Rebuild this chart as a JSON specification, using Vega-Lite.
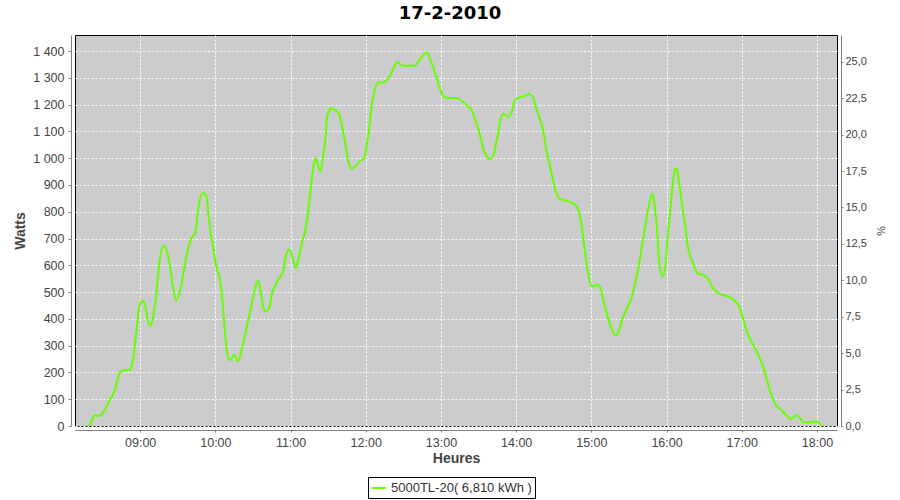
{
  "$schema": "https://vega.github.io/schema/vega-lite/v6.json",
  "autosize": {"type": "none"},
  "width": 762,
  "height": 391,
  "padding": {"left": 75, "top": 35, "right": 63, "bottom": 74},
  "background": "white",
  "title": {"text": "17-2-2010", "font": "DejaVu Sans", "fontSize": 18, "fontWeight": "bold", "color": "#000000", "anchor": "middle", "dx": -6, "offset": 12},
  "data": {"values": [
    {"time": "2010-02-17T08:19:00Z", "watts": 0},
    {"time": "2010-02-17T08:21:00Z", "watts": 15},
    {"time": "2010-02-17T08:23:00Z", "watts": 37},
    {"time": "2010-02-17T08:25:00Z", "watts": 40},
    {"time": "2010-02-17T08:27:00Z", "watts": 37},
    {"time": "2010-02-17T08:29:00Z", "watts": 42},
    {"time": "2010-02-17T08:31:00Z", "watts": 55},
    {"time": "2010-02-17T08:33:00Z", "watts": 72},
    {"time": "2010-02-17T08:36:00Z", "watts": 99},
    {"time": "2010-02-17T08:38:00Z", "watts": 115},
    {"time": "2010-02-17T08:40:00Z", "watts": 138},
    {"time": "2010-02-17T08:42:00Z", "watts": 175},
    {"time": "2010-02-17T08:44:00Z", "watts": 200},
    {"time": "2010-02-17T08:46:00Z", "watts": 208},
    {"time": "2010-02-17T08:49:00Z", "watts": 208},
    {"time": "2010-02-17T08:52:00Z", "watts": 210},
    {"time": "2010-02-17T08:54:00Z", "watts": 240},
    {"time": "2010-02-17T08:56:00Z", "watts": 310},
    {"time": "2010-02-17T08:58:00Z", "watts": 397},
    {"time": "2010-02-17T08:59:00Z", "watts": 441},
    {"time": "2010-02-17T09:02:00Z", "watts": 468},
    {"time": "2010-02-17T09:04:00Z", "watts": 453},
    {"time": "2010-02-17T09:06:00Z", "watts": 397},
    {"time": "2010-02-17T09:08:00Z", "watts": 376},
    {"time": "2010-02-17T09:11:00Z", "watts": 422},
    {"time": "2010-02-17T09:13:00Z", "watts": 497},
    {"time": "2010-02-17T09:15:00Z", "watts": 596},
    {"time": "2010-02-17T09:17:00Z", "watts": 656},
    {"time": "2010-02-17T09:19:00Z", "watts": 673},
    {"time": "2010-02-17T09:22:00Z", "watts": 640},
    {"time": "2010-02-17T09:24:00Z", "watts": 590},
    {"time": "2010-02-17T09:26:00Z", "watts": 522},
    {"time": "2010-02-17T09:29:00Z", "watts": 469},
    {"time": "2010-02-17T09:32:00Z", "watts": 509},
    {"time": "2010-02-17T09:35:00Z", "watts": 584},
    {"time": "2010-02-17T09:38:00Z", "watts": 658},
    {"time": "2010-02-17T09:41:00Z", "watts": 702},
    {"time": "2010-02-17T09:44:00Z", "watts": 721},
    {"time": "2010-02-17T09:46:00Z", "watts": 801},
    {"time": "2010-02-17T09:50:00Z", "watts": 870},
    {"time": "2010-02-17T09:53:00Z", "watts": 857},
    {"time": "2010-02-17T09:55:00Z", "watts": 764},
    {"time": "2010-02-17T09:58:00Z", "watts": 671},
    {"time": "2010-02-17T10:01:00Z", "watts": 590},
    {"time": "2010-02-17T10:04:00Z", "watts": 540},
    {"time": "2010-02-17T10:06:00Z", "watts": 447},
    {"time": "2010-02-17T10:08:00Z", "watts": 335},
    {"time": "2010-02-17T10:10:00Z", "watts": 254},
    {"time": "2010-02-17T10:12:00Z", "watts": 246},
    {"time": "2010-02-17T10:15:00Z", "watts": 267},
    {"time": "2010-02-17T10:18:00Z", "watts": 242},
    {"time": "2010-02-17T10:21:00Z", "watts": 285},
    {"time": "2010-02-17T10:24:00Z", "watts": 348},
    {"time": "2010-02-17T10:27:00Z", "watts": 410},
    {"time": "2010-02-17T10:30:00Z", "watts": 478},
    {"time": "2010-02-17T10:34:00Z", "watts": 543},
    {"time": "2010-02-17T10:36:00Z", "watts": 509},
    {"time": "2010-02-17T10:38:00Z", "watts": 447},
    {"time": "2010-02-17T10:40:00Z", "watts": 428},
    {"time": "2010-02-17T10:43:00Z", "watts": 441},
    {"time": "2010-02-17T10:45:00Z", "watts": 491},
    {"time": "2010-02-17T10:48:00Z", "watts": 528},
    {"time": "2010-02-17T10:50:00Z", "watts": 547},
    {"time": "2010-02-17T10:54:00Z", "watts": 574},
    {"time": "2010-02-17T10:56:00Z", "watts": 628},
    {"time": "2010-02-17T10:59:00Z", "watts": 659},
    {"time": "2010-02-17T11:02:00Z", "watts": 621},
    {"time": "2010-02-17T11:04:00Z", "watts": 590},
    {"time": "2010-02-17T11:06:00Z", "watts": 615},
    {"time": "2010-02-17T11:09:00Z", "watts": 684},
    {"time": "2010-02-17T11:12:00Z", "watts": 733},
    {"time": "2010-02-17T11:14:00Z", "watts": 796},
    {"time": "2010-02-17T11:16:00Z", "watts": 882},
    {"time": "2010-02-17T11:18:00Z", "watts": 960},
    {"time": "2010-02-17T11:20:00Z", "watts": 1001},
    {"time": "2010-02-17T11:22:00Z", "watts": 969},
    {"time": "2010-02-17T11:24:00Z", "watts": 951},
    {"time": "2010-02-17T11:26:00Z", "watts": 1007},
    {"time": "2010-02-17T11:28:00Z", "watts": 1081},
    {"time": "2010-02-17T11:29:00Z", "watts": 1150},
    {"time": "2010-02-17T11:31:00Z", "watts": 1178},
    {"time": "2010-02-17T11:32:00Z", "watts": 1187},
    {"time": "2010-02-17T11:36:00Z", "watts": 1178},
    {"time": "2010-02-17T11:39:00Z", "watts": 1162},
    {"time": "2010-02-17T11:41:00Z", "watts": 1119},
    {"time": "2010-02-17T11:44:00Z", "watts": 1044},
    {"time": "2010-02-17T11:46:00Z", "watts": 988},
    {"time": "2010-02-17T11:49:00Z", "watts": 961},
    {"time": "2010-02-17T11:52:00Z", "watts": 972},
    {"time": "2010-02-17T11:55:00Z", "watts": 988},
    {"time": "2010-02-17T11:59:00Z", "watts": 1001},
    {"time": "2010-02-17T12:01:00Z", "watts": 1057},
    {"time": "2010-02-17T12:03:00Z", "watts": 1119},
    {"time": "2010-02-17T12:05:00Z", "watts": 1206},
    {"time": "2010-02-17T12:07:00Z", "watts": 1249},
    {"time": "2010-02-17T12:08:00Z", "watts": 1268},
    {"time": "2010-02-17T12:10:00Z", "watts": 1283},
    {"time": "2010-02-17T12:14:00Z", "watts": 1283},
    {"time": "2010-02-17T12:18:00Z", "watts": 1299},
    {"time": "2010-02-17T12:21:00Z", "watts": 1324},
    {"time": "2010-02-17T12:25:00Z", "watts": 1358},
    {"time": "2010-02-17T12:30:00Z", "watts": 1345},
    {"time": "2010-02-17T12:34:00Z", "watts": 1345},
    {"time": "2010-02-17T12:39:00Z", "watts": 1345},
    {"time": "2010-02-17T12:43:00Z", "watts": 1368},
    {"time": "2010-02-17T12:46:00Z", "watts": 1386},
    {"time": "2010-02-17T12:49:00Z", "watts": 1396},
    {"time": "2010-02-17T12:51:00Z", "watts": 1374},
    {"time": "2010-02-17T12:54:00Z", "watts": 1337},
    {"time": "2010-02-17T12:57:00Z", "watts": 1293},
    {"time": "2010-02-17T13:00:00Z", "watts": 1249},
    {"time": "2010-02-17T13:03:00Z", "watts": 1228},
    {"time": "2010-02-17T13:07:00Z", "watts": 1225},
    {"time": "2010-02-17T13:13:00Z", "watts": 1225},
    {"time": "2010-02-17T13:17:00Z", "watts": 1212},
    {"time": "2010-02-17T13:21:00Z", "watts": 1196},
    {"time": "2010-02-17T13:25:00Z", "watts": 1175},
    {"time": "2010-02-17T13:27:00Z", "watts": 1150},
    {"time": "2010-02-17T13:30:00Z", "watts": 1106},
    {"time": "2010-02-17T13:32:00Z", "watts": 1069},
    {"time": "2010-02-17T13:34:00Z", "watts": 1032},
    {"time": "2010-02-17T13:39:00Z", "watts": 997},
    {"time": "2010-02-17T13:42:00Z", "watts": 1013},
    {"time": "2010-02-17T13:44:00Z", "watts": 1057},
    {"time": "2010-02-17T13:46:00Z", "watts": 1100},
    {"time": "2010-02-17T13:47:00Z", "watts": 1137},
    {"time": "2010-02-17T13:50:00Z", "watts": 1166},
    {"time": "2010-02-17T13:54:00Z", "watts": 1154},
    {"time": "2010-02-17T13:57:00Z", "watts": 1181},
    {"time": "2010-02-17T13:59:00Z", "watts": 1216},
    {"time": "2010-02-17T14:03:00Z", "watts": 1228},
    {"time": "2010-02-17T14:07:00Z", "watts": 1233},
    {"time": "2010-02-17T14:10:00Z", "watts": 1240},
    {"time": "2010-02-17T14:13:00Z", "watts": 1231},
    {"time": "2010-02-17T14:16:00Z", "watts": 1187},
    {"time": "2010-02-17T14:19:00Z", "watts": 1144},
    {"time": "2010-02-17T14:22:00Z", "watts": 1094},
    {"time": "2010-02-17T14:24:00Z", "watts": 1032},
    {"time": "2010-02-17T14:27:00Z", "watts": 969},
    {"time": "2010-02-17T14:30:00Z", "watts": 907},
    {"time": "2010-02-17T14:32:00Z", "watts": 870},
    {"time": "2010-02-17T14:35:00Z", "watts": 848},
    {"time": "2010-02-17T14:40:00Z", "watts": 841},
    {"time": "2010-02-17T14:46:00Z", "watts": 829},
    {"time": "2010-02-17T14:49:00Z", "watts": 814},
    {"time": "2010-02-17T14:51:00Z", "watts": 783},
    {"time": "2010-02-17T14:53:00Z", "watts": 721},
    {"time": "2010-02-17T14:55:00Z", "watts": 646},
    {"time": "2010-02-17T14:57:00Z", "watts": 584},
    {"time": "2010-02-17T14:59:00Z", "watts": 534},
    {"time": "2010-02-17T15:01:00Z", "watts": 522},
    {"time": "2010-02-17T15:05:00Z", "watts": 528},
    {"time": "2010-02-17T15:08:00Z", "watts": 503},
    {"time": "2010-02-17T15:10:00Z", "watts": 460},
    {"time": "2010-02-17T15:13:00Z", "watts": 410},
    {"time": "2010-02-17T15:16:00Z", "watts": 366},
    {"time": "2010-02-17T15:19:00Z", "watts": 338},
    {"time": "2010-02-17T15:22:00Z", "watts": 354},
    {"time": "2010-02-17T15:24:00Z", "watts": 391},
    {"time": "2010-02-17T15:28:00Z", "watts": 435},
    {"time": "2010-02-17T15:32:00Z", "watts": 478},
    {"time": "2010-02-17T15:35:00Z", "watts": 534},
    {"time": "2010-02-17T15:38:00Z", "watts": 603},
    {"time": "2010-02-17T15:40:00Z", "watts": 659},
    {"time": "2010-02-17T15:43:00Z", "watts": 746},
    {"time": "2010-02-17T15:46:00Z", "watts": 826},
    {"time": "2010-02-17T15:49:00Z", "watts": 867},
    {"time": "2010-02-17T15:51:00Z", "watts": 801},
    {"time": "2010-02-17T15:53:00Z", "watts": 696},
    {"time": "2010-02-17T15:54:00Z", "watts": 615},
    {"time": "2010-02-17T15:57:00Z", "watts": 559},
    {"time": "2010-02-17T15:59:00Z", "watts": 596},
    {"time": "2010-02-17T16:01:00Z", "watts": 708},
    {"time": "2010-02-17T16:04:00Z", "watts": 857},
    {"time": "2010-02-17T16:06:00Z", "watts": 945},
    {"time": "2010-02-17T16:08:00Z", "watts": 963},
    {"time": "2010-02-17T16:10:00Z", "watts": 907},
    {"time": "2010-02-17T16:13:00Z", "watts": 808},
    {"time": "2010-02-17T16:15:00Z", "watts": 739},
    {"time": "2010-02-17T16:17:00Z", "watts": 671},
    {"time": "2010-02-17T16:21:00Z", "watts": 609},
    {"time": "2010-02-17T16:25:00Z", "watts": 569},
    {"time": "2010-02-17T16:29:00Z", "watts": 564},
    {"time": "2010-02-17T16:33:00Z", "watts": 549},
    {"time": "2010-02-17T16:37:00Z", "watts": 516},
    {"time": "2010-02-17T16:41:00Z", "watts": 497},
    {"time": "2010-02-17T16:47:00Z", "watts": 487},
    {"time": "2010-02-17T16:52:00Z", "watts": 476},
    {"time": "2010-02-17T16:56:00Z", "watts": 460},
    {"time": "2010-02-17T16:59:00Z", "watts": 435},
    {"time": "2010-02-17T17:02:00Z", "watts": 385},
    {"time": "2010-02-17T17:05:00Z", "watts": 341},
    {"time": "2010-02-17T17:09:00Z", "watts": 304},
    {"time": "2010-02-17T17:13:00Z", "watts": 267},
    {"time": "2010-02-17T17:17:00Z", "watts": 223},
    {"time": "2010-02-17T17:20:00Z", "watts": 174},
    {"time": "2010-02-17T17:23:00Z", "watts": 124},
    {"time": "2010-02-17T17:27:00Z", "watts": 80},
    {"time": "2010-02-17T17:31:00Z", "watts": 62},
    {"time": "2010-02-17T17:35:00Z", "watts": 43},
    {"time": "2010-02-17T17:39:00Z", "watts": 27},
    {"time": "2010-02-17T17:41:00Z", "watts": 31},
    {"time": "2010-02-17T17:44:00Z", "watts": 40},
    {"time": "2010-02-17T17:47:00Z", "watts": 27},
    {"time": "2010-02-17T17:49:00Z", "watts": 14},
    {"time": "2010-02-17T17:55:00Z", "watts": 14},
    {"time": "2010-02-17T17:59:00Z", "watts": 18},
    {"time": "2010-02-17T18:01:00Z", "watts": 14},
    {"time": "2010-02-17T18:04:00Z", "watts": 0}
  ]},
  "layer": [
    {
      "mark": {"type": "line", "strokeWidth": 2, "interpolate": "monotone"},
      "encoding": {
        "x": {
          "field": "time", "type": "temporal",
          "scale": {"type": "utc", "domain": [
            {"year": 2010, "month": 2, "date": 17, "hours": 8, "minutes": 8, "utc": true},
            {"year": 2010, "month": 2, "date": 17, "hours": 18, "minutes": 16, "utc": true}
          ]},
          "axis": {
            "title": "Heures",
            "values": [
              {"year": 2010, "month": 2, "date": 17, "hours": 9, "utc": true},
              {"year": 2010, "month": 2, "date": 17, "hours": 10, "utc": true},
              {"year": 2010, "month": 2, "date": 17, "hours": 11, "utc": true},
              {"year": 2010, "month": 2, "date": 17, "hours": 12, "utc": true},
              {"year": 2010, "month": 2, "date": 17, "hours": 13, "utc": true},
              {"year": 2010, "month": 2, "date": 17, "hours": 14, "utc": true},
              {"year": 2010, "month": 2, "date": 17, "hours": 15, "utc": true},
              {"year": 2010, "month": 2, "date": 17, "hours": 16, "utc": true},
              {"year": 2010, "month": 2, "date": 17, "hours": 17, "utc": true},
              {"year": 2010, "month": 2, "date": 17, "hours": 18, "utc": true}
            ],
            "labelExpr": "utcFormat(datum.value, '%H:%M')",
            "offset": 4, "tickSize": 2, "labelPadding": 4, "titlePadding": 3,
            "labelFlush": false, "labelOverlap": false
          }
        },
        "y": {
          "field": "watts", "type": "quantitative",
          "scale": {"domain": [0, 1460], "nice": false, "zero": true},
          "axis": {
            "title": "Watts",
            "values": [0, 100, 200, 300, 400, 500, 600, 700, 800, 900, 1000, 1100, 1200, 1300, 1400],
            "labelExpr": "replace(format(datum.value, ','), ',', ' ')",
            "offset": 4, "tickSize": 3, "labelPadding": 4, "titlePadding": 5,
            "labelFlush": false, "labelOverlap": false
          }
        },
        "color": {
          "datum": "5000TL-20( 6,810 kWh )",
          "type": "nominal",
          "scale": {"range": ["#66ff00"]},
          "legend": {
            "title": null, "orient": "none", "legendX": 293, "legendY": 442,
            "strokeColor": "#000000", "padding": 3, "symbolType": "stroke",
            "symbolSize": 196, "symbolStrokeWidth": 2, "labelFont": "Liberation Sans",
            "labelFontSize": 13, "labelColor": "#333333", "labelOffset": 4
          }
        }
      }
    },
    {
      "mark": {"type": "point", "opacity": 0},
      "encoding": {
        "y": {
          "datum": 0, "type": "quantitative",
          "scale": {"domain": [0, 26.84], "nice": false, "zero": true},
          "axis": {
            "orient": "right", "title": "%",
            "values": [0, 2.5, 5, 7.5, 10, 12.5, 15, 17.5, 20, 22.5, 25],
            "labelExpr": "replace(format(datum.value, '.1f'), '.', ',')",
            "grid": false, "offset": 4, "tickSize": 2, "labelPadding": 2, "titlePadding": 8,
            "titleFontSize": 11, "titleFontWeight": "normal", "labelFontSize": 11,
            "labelColor": "#444444",
            "labelFlush": false, "labelOverlap": false
          }
        }
      }
    }
  ],
  "resolve": {"scale": {"y": "independent"}, "axis": {"y": "independent"}},
  "config": {
    "view": {"fill": "#cccccc", "stroke": "#000000", "strokeWidth": 1},
    "axis": {
      "domainColor": "#808080", "tickColor": "#808080", "labelColor": "#444444",
      "labelFont": "Liberation Sans", "labelFontSize": 12.5,
      "titleFont": "Liberation Sans", "titleFontSize": 14, "titleFontWeight": "bold", "titleColor": "#444444",
      "gridColor": "#ffffff", "gridDash": [2, 2], "gridOpacity": 1, "gridWidth": 1
    }
  }
}
